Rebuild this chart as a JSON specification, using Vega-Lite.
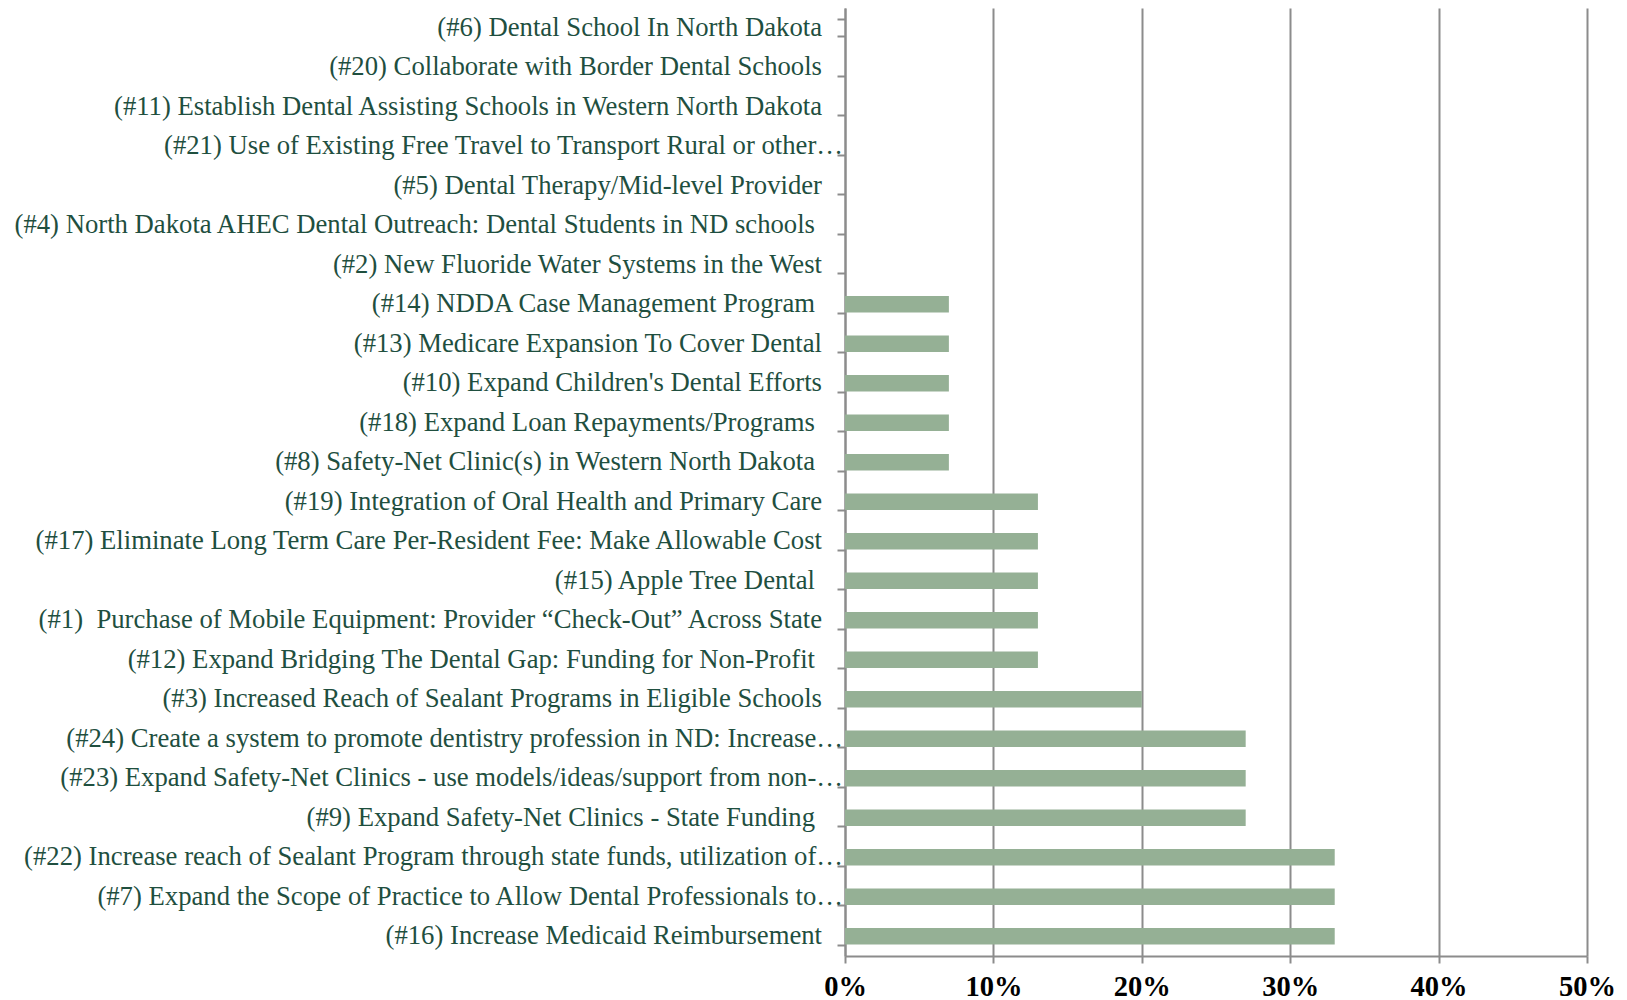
{
  "$schema": "https://vega.github.io/schema/vega-lite/v6.json",
  "autosize": "none",
  "width": 742,
  "height": 948,
  "padding": {"left": 845, "top": 8, "right": 40, "bottom": 44},
  "background": "white",
  "data": {
    "values": [
      {"label": "(#6) Dental School In North Dakota", "pct": 0},
      {"label": "(#20) Collaborate with Border Dental Schools", "pct": 0},
      {"label": "(#11) Establish Dental Assisting Schools in Western North Dakota", "pct": 0},
      {"label": "(#21) Use of Existing Free Travel to Transport Rural or other…", "pct": 0},
      {"label": "(#5) Dental Therapy/Mid-level Provider", "pct": 0},
      {"label": "(#4) North Dakota AHEC Dental Outreach: Dental Students in ND schools ", "pct": 0},
      {"label": "(#2) New Fluoride Water Systems in the West", "pct": 0},
      {"label": "(#14) NDDA Case Management Program ", "pct": 0.07},
      {"label": "(#13) Medicare Expansion To Cover Dental", "pct": 0.07},
      {"label": "(#10) Expand Children's Dental Efforts", "pct": 0.07},
      {"label": "(#18) Expand Loan Repayments/Programs ", "pct": 0.07},
      {"label": "(#8) Safety-Net Clinic(s) in Western North Dakota ", "pct": 0.07},
      {"label": "(#19) Integration of Oral Health and Primary Care", "pct": 0.13},
      {"label": "(#17) Eliminate Long Term Care Per-Resident Fee: Make Allowable Cost", "pct": 0.13},
      {"label": "(#15) Apple Tree Dental ", "pct": 0.13},
      {"label": "(#1)\u00a0 Purchase of Mobile Equipment: Provider “Check-Out” Across State", "pct": 0.13},
      {"label": "(#12) Expand Bridging The Dental Gap: Funding for Non-Profit ", "pct": 0.13},
      {"label": "(#3) Increased Reach of Sealant Programs in Eligible Schools", "pct": 0.20},
      {"label": "(#24) Create a system to promote dentistry profession in ND: Increase…", "pct": 0.27},
      {"label": "(#23) Expand Safety-Net Clinics - use models/ideas/support from non-…", "pct": 0.27},
      {"label": "(#9) Expand Safety-Net Clinics - State Funding ", "pct": 0.27},
      {"label": "(#22) Increase reach of Sealant Program through state funds, utilization of…", "pct": 0.33},
      {"label": "(#7) Expand the Scope of Practice to Allow Dental Professionals to…", "pct": 0.33},
      {"label": "(#16) Increase Medicaid Reimbursement", "pct": 0.33}
    ]
  },
  "encoding": {
    "y": {
      "field": "label",
      "type": "nominal",
      "title": null,
      "scale": {
        "domain": [
          "(#6) Dental School In North Dakota",
          "(#20) Collaborate with Border Dental Schools",
          "(#11) Establish Dental Assisting Schools in Western North Dakota",
          "(#21) Use of Existing Free Travel to Transport Rural or other…",
          "(#5) Dental Therapy/Mid-level Provider",
          "(#4) North Dakota AHEC Dental Outreach: Dental Students in ND schools ",
          "(#2) New Fluoride Water Systems in the West",
          "(#14) NDDA Case Management Program ",
          "(#13) Medicare Expansion To Cover Dental",
          "(#10) Expand Children's Dental Efforts",
          "(#18) Expand Loan Repayments/Programs ",
          "(#8) Safety-Net Clinic(s) in Western North Dakota ",
          "(#19) Integration of Oral Health and Primary Care",
          "(#17) Eliminate Long Term Care Per-Resident Fee: Make Allowable Cost",
          "(#15) Apple Tree Dental ",
          "(#1)\u00a0 Purchase of Mobile Equipment: Provider “Check-Out” Across State",
          "(#12) Expand Bridging The Dental Gap: Funding for Non-Profit ",
          "(#3) Increased Reach of Sealant Programs in Eligible Schools",
          "(#24) Create a system to promote dentistry profession in ND: Increase…",
          "(#23) Expand Safety-Net Clinics - use models/ideas/support from non-…",
          "(#9) Expand Safety-Net Clinics - State Funding ",
          "(#22) Increase reach of Sealant Program through state funds, utilization of…",
          "(#7) Expand the Scope of Practice to Allow Dental Professionals to…",
          "(#16) Increase Medicaid Reimbursement"
        ],
        "paddingInner": 0.58,
        "paddingOuter": 0.29
      },
      "axis": {
        "labels": false,
        "tickBand": "extent",
        "tickColor": "#8C8C8C",
        "tickWidth": 2,
        "tickSize": 8,
        "domainColor": "#8C8C8C",
        "domainWidth": 2,
        "grid": false
      }
    }
  },
  "layer": [
    {
      "mark": {"type": "bar", "color": "#95B095"},
      "encoding": {
        "x": {
          "field": "pct",
          "type": "quantitative",
          "title": null,
          "scale": {"domain": [0, 0.5]},
          "axis": {
            "values": [0, 0.1, 0.2, 0.3, 0.4, 0.5],
            "format": ".0%",
            "labelFont": "Liberation Serif",
            "labelFontSize": 28.5,
            "labelFontWeight": "bold",
            "labelColor": "#000000",
            "labelPadding": 9,
            "labelFlush": false,
            "grid": true,
            "gridColor": "#8C8C8C",
            "gridWidth": 2,
            "tickColor": "#8C8C8C",
            "tickWidth": 2,
            "tickSize": 7,
            "domainColor": "#8C8C8C",
            "domainWidth": 2
          }
        }
      }
    },
    {
      "transform": [{"filter": "indexof(datum.label, '…') < 0 && substring(datum.label, length(datum.label) - 1) != ' '"}],
      "mark": {"type": "text", "align": "right", "baseline": "middle", "dx": -23, "font": "Liberation Serif", "fontSize": 26.7, "color": "#1F4F3F"},
      "encoding": {"x": {"datum": 0, "type": "quantitative"}, "text": {"field": "label"}}
    },
    {
      "transform": [{"filter": "indexof(datum.label, '…') < 0 && substring(datum.label, length(datum.label) - 1) == ' '"}],
      "mark": {"type": "text", "align": "right", "baseline": "middle", "dx": -30, "font": "Liberation Serif", "fontSize": 26.7, "color": "#1F4F3F"},
      "encoding": {"x": {"datum": 0, "type": "quantitative"}, "text": {"field": "label"}}
    },
    {
      "transform": [{"filter": "indexof(datum.label, '…') >= 0"}],
      "mark": {"type": "text", "align": "right", "baseline": "middle", "dx": -2, "font": "Liberation Serif", "fontSize": 26.7, "color": "#1F4F3F"},
      "encoding": {"x": {"datum": 0, "type": "quantitative"}, "text": {"field": "label"}}
    }
  ],
  "config": {"view": {"stroke": null}}
}
